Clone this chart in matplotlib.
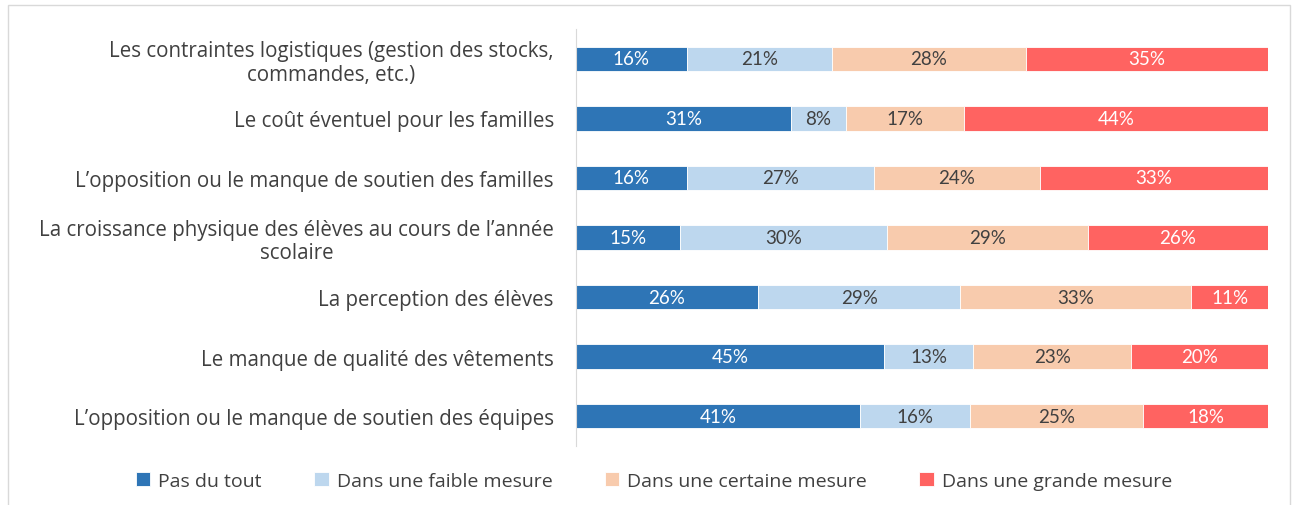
import numpy as np
import matplotlib.pyplot as plt
from matplotlib.patches import Rectangle

# data
categories = [
    "Les contraintes logistiques (gestion des stocks,\ncommandes, etc.)",
    "Le coût éventuel pour les familles",
    "L’opposition ou le manque de soutien des familles",
    "La croissance physique des élèves au cours de l’année\nscolaire",
    "La perception des élèves",
    "Le manque de qualité des vêtements",
    "L’opposition ou le manque de soutien des équipes",
]
series_names = ["Pas du tout", "Dans une faible mesure",
                "Dans une certaine mesure", "Dans une grande mesure"]
pas_du_tout = [16, 31, 16, 15, 26, 45, 41]
faible = [21, 8, 27, 30, 29, 13, 16]
certaine = [28, 17, 24, 29, 33, 23, 25]
grande = [35, 44, 33, 26, 11, 20, 18]

colors = ["#2E75B6", "#BDD7EE", "#F8CBAD", "#FF6361"]
text_colors = ["white", "#404040", "#404040", "white"]

plt.rcParams['font.family'] = ['Open Sans', 'DejaVu Sans']

vals = np.array([pas_du_tout, faible, certaine, grande], dtype=float)
shares = vals / vals.sum(axis=0)  # 100% stacked
y = np.arange(len(categories))

fig = plt.figure(figsize=(12.95, 5.06), dpi=100)
ax = fig.add_axes([576/1295, 1-447/506, (1268-576)/1295, (447-30)/506])

left = np.zeros(len(categories))
for i in range(4):
    bars = ax.barh(y, shares[i], left=left, height=0.41, color=colors[i],
                   edgecolor='white', linewidth=0.6, label=series_names[i])
    for j, b in enumerate(bars):
        ax.text(left[j] + shares[i][j]/2, y[j], f"{int(vals[i][j])}%",
                ha='center', va='center', color=text_colors[i],
                fontsize=13.5, family=['Lato', 'DejaVu Sans'])
    left += shares[i]

ax.set_xlim(0, 1)
ax.set_ylim(len(categories) - 0.5, -0.5)
ax.set_yticks(y)
ax.set_yticklabels(categories, fontsize=14.8, color='#404040')
for lab in ax.get_yticklabels():
    lab.set_multialignment('center')
    lab.set_linespacing(1.15)
ax.tick_params(axis='y', length=0, pad=16)
ax.set_xticks([])
for s in ['top', 'right', 'bottom']:
    ax.spines[s].set_visible(False)
ax.spines['left'].set_color('#D9D9D9')

fig.legend(loc='center', bbox_to_anchor=(654/1295, 1-482/506), ncol=4,
           frameon=False, handlelength=0.75, handleheight=0.75,
           handletextpad=0.4, columnspacing=2.7, labelcolor='#404040',
           prop={'family': ['Open Sans', 'DejaVu Sans'], 'size': 14})

# outer frame
fig.patches.append(Rectangle((8/1295, -0.1), (1290-8)/1295, 1.1 - 6/506,
                             transform=fig.transFigure, fill=False,
                             edgecolor='#D9D9D9', linewidth=1))

fig.savefig('out.png', dpi=100)
